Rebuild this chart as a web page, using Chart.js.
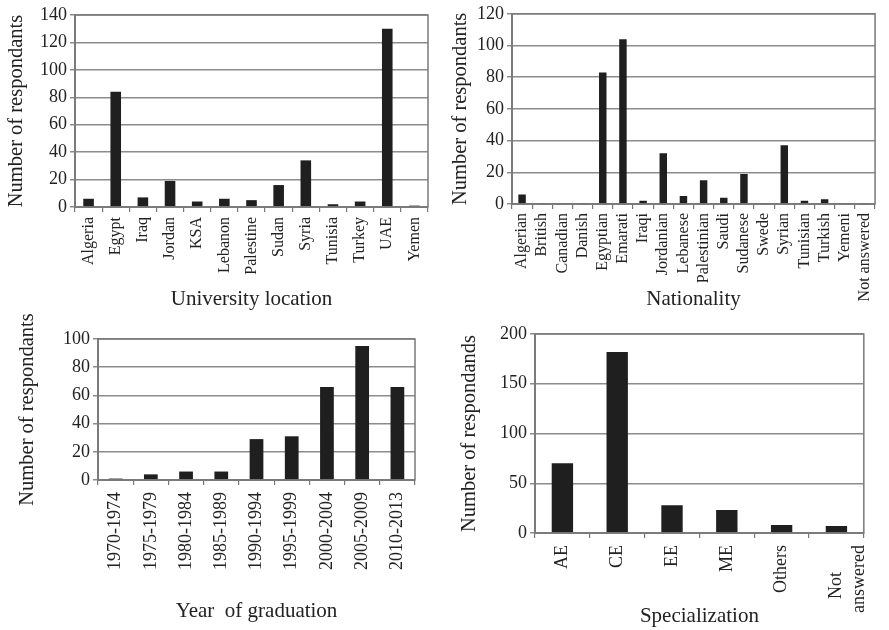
<!DOCTYPE html>
<html>
<head>
<meta charset="utf-8">
<script src="https://cdn.jsdelivr.net/npm/chart.js@4.4.0/dist/chart.umd.min.js"></script>
<style>
  html, body { margin: 0; padding: 0; background: #fff; }
  body { width: 889px; height: 630px; position: relative; overflow: hidden; }
  canvas { position: absolute; }
</style>
</head>
<body>
<canvas id="c1" width="445" height="310" style="left:0;top:0"></canvas>
<canvas id="c2" width="444" height="310" style="left:445px;top:0"></canvas>
<canvas id="c3" width="445" height="320" style="left:0;top:310px"></canvas>
<canvas id="c4" width="444" height="320" style="left:445px;top:310px"></canvas>
<script>
// ---- Data ----
const locationLabels = ["Algeria","Egypt","Iraq","Jordan","KSA","Lebanon","Palestine","Sudan","Syria","Tunisia","Turkey","UAE","Yemen"];
const locationValues = [6, 84, 7, 19, 4, 6, 5, 16, 34, 2, 4, 130, 1];

const nationalityLabels = ["Algerian","British","Canadian","Danish","Egyptian","Emarati","Iraqi","Jordanian","Lebanese","Palestinian","Saudi","Sudanese","Swede","Syrian","Tunisian","Turkish","Yemeni","Not answered"];
const nationalityValues = [6, 0.6, 0.6, 0.6, 83, 104, 2, 32, 5, 15, 4, 19, 0.6, 37, 2, 3, 0.6, 0.6];

const yearLabels = ["1970-1974","1975-1979","1980-1984","1985-1989","1990-1994","1995-1999","2000-2004","2005-2009","2010-2013"];
const yearValues = [1, 4, 6, 6, 29, 31, 66, 95, 66];

const specLabels = ["AE","CE","EE","ME","Others",["Not      ","answered"]];
const specValues = [70, 182, 28, 23, 8, 7];

// ---- Styling / helpers ----
const SERIF = "'Liberation Serif', 'Times New Roman', serif";
const TEXT = '#222';
const BAR = '#1f1f1f';

const framePlugin = {
  id: 'frame',
  afterDatasetsDraw(chart) {
    const { ctx, chartArea: a } = chart;
    ctx.save();
    ctx.strokeStyle = '#7a7a7a';
    ctx.lineWidth = 1.5;
    ctx.strokeRect(a.left, a.top, a.right - a.left, a.bottom - a.top);
    ctx.restore();
  }
};

function makeChart(id, labels, values, o) {
  return new Chart(document.getElementById(id), {
    type: 'bar',
    data: {
      labels: labels,
      datasets: [{
        data: values,
        backgroundColor: BAR,
        borderWidth: 0,
        barPercentage: 1,
        categoryPercentage: o.barFrac
      }]
    },
    options: {
      responsive: false,
      animation: false,
      events: [],
      layout: { padding: o.pad },
      plugins: { legend: { display: false }, tooltip: { enabled: false } },
      scales: {
        x: {
          offset: true,
          grid: { offset: true, drawOnChartArea: false, drawTicks: true, tickLength: 5, color: '#777', lineWidth: 1.2 },
          border: { display: true, color: '#808080', width: 2 },
          ticks: {
            autoSkip: false, minRotation: 90, maxRotation: 90,
            padding: o.xTickPad,
            color: TEXT,
            font: { family: SERIF, size: o.xTickSize, lineHeight: 1.25 }
          },
          title: {
            display: true, text: o.xTitle, color: TEXT,
            padding: 0,
            font: { family: SERIF, size: 21, lineHeight: 1 }
          },
          afterFit: (s) => { s.height = o.xHeight; }
        },
        y: {
          min: 0, max: o.yMax,
          grid: { color: '#8c8c8c', lineWidth: 1.5, drawTicks: true, tickLength: 5 },
          border: { display: true, color: '#808080', width: 2 },
          ticks: {
            stepSize: o.yStep, padding: 3, color: TEXT,
            font: { family: SERIF, size: 18 }
          },
          title: {
            display: true, text: o.yTitle, color: TEXT,
            padding: 0,
            font: { family: SERIF, size: 20.5, lineHeight: 1 }
          },
          afterFit: (s) => { s.width = o.yWidth; }
        }
      }
    },
    plugins: [framePlugin]
  });
}

makeChart('c1', locationLabels, locationValues, {
  barFrac: 0.39, pad: { left: 6, right: 17, top: 15, bottom: 0 },
  yWidth: 69, xHeight: 103, xTickPad: 5, xTickSize: 16,
  yMax: 140, yStep: 20,
  xTitle: 'University location', yTitle: 'Number of respondants'
});

makeChart('c2', nationalityLabels, nationalityValues, {
  barFrac: 0.37, pad: { left: 5, right: 1, top: 13, bottom: 0 },
  yWidth: 62, xHeight: 106, xTickPad: 4, xTickSize: 16,
  yMax: 120, yStep: 20,
  xTitle: 'Nationality', yTitle: 'Number of respondants'
});

makeChart('c3', yearLabels, yearValues, {
  barFrac: 0.39, pad: { left: 17, right: 30, top: 29, bottom: 8 },
  yWidth: 81, xHeight: 142, xTickPad: 7, xTickSize: 18,
  yMax: 100, yStep: 20,
  xTitle: 'Year  of graduation', yTitle: 'Number of respondants'
});

makeChart('c4', specLabels, specValues, {
  barFrac: 0.39, pad: { left: 14, right: 7, top: 24, bottom: 3 },
  yWidth: 76, xHeight: 94, xTickPad: 7, xTickSize: 18,
  yMax: 200, yStep: 50,
  xTitle: 'Specialization', yTitle: 'Number of respondands'
});
</script>
</body>
</html>
